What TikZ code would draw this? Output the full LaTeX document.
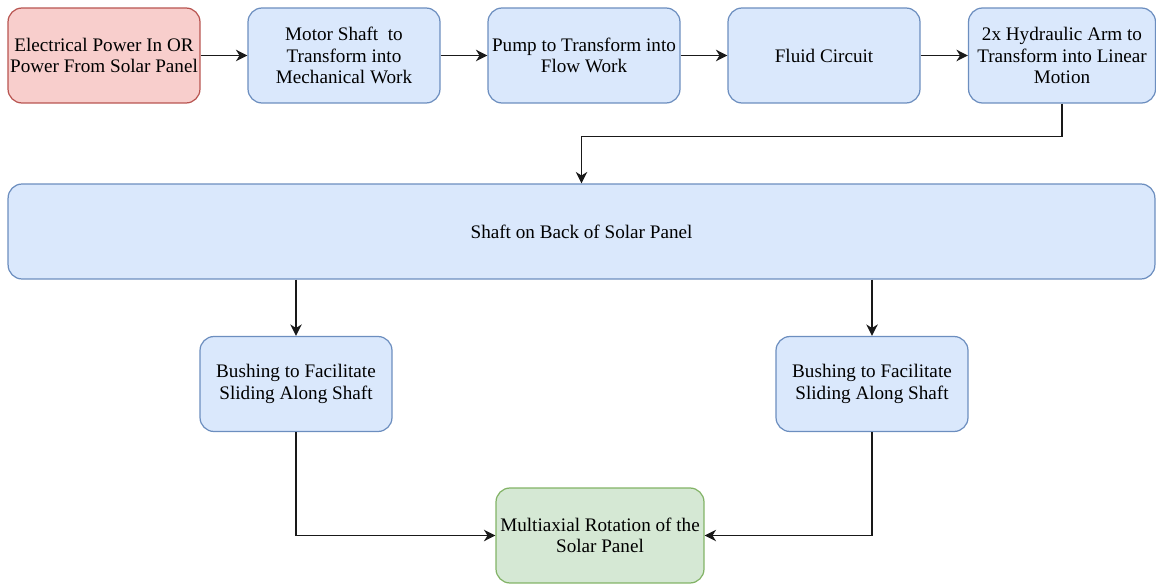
\documentclass[tikz,border=0pt]{standalone}
\usepackage{fontspec}
\setmainfont{Liberation Serif}
\usetikzlibrary{arrows.meta}

\definecolor{bluefill}{HTML}{DAE8FC}
\definecolor{blueline}{HTML}{6C8EBF}
\definecolor{redfill}{HTML}{F8CECC}
\definecolor{redline}{HTML}{B85450}
\definecolor{greenfill}{HTML}{D5E8D4}
\definecolor{greenline}{HTML}{82B366}

\tikzset{
  box/.style={draw=blueline, fill=bluefill, rounded corners=0.28cm, line width=0.7pt,
    minimum width=3.84cm, minimum height=1.9cm, inner sep=0pt, align=center,
    font=\fontsize{10.9}{12.3}\selectfont, text=black},
  redbox/.style={box, draw=redline, fill=redfill},
  greenbox/.style={box, draw=greenline, fill=greenfill},
  arr/.style={draw=black!90, line width=1pt, -{Stealth[length=6.5pt,width=6.5pt,inset=2pt]}}
}

\begin{document}
\begin{tikzpicture}[x=0.02cm,y=-0.02cm]
\useasboundingbox (0,0) rectangle (1156,584);

%row-1
\node[redbox] (power) at (104,55.5) {Electrical Power In OR\\Power From Solar Panel};
\node[box] (motor) at (344,55.5) {Motor Shaft\ \ to\\Transform into\\Mechanical Work};
\node[box] (pump) at (584,55.5) {Pump to Transform into\\Flow Work};
\node[box] (fluid) at (824,55.5) {Fluid Circuit};
\node[box, minimum width=3.74cm] (arm) at (1062,55.5) {2x Hydraulic Arm to\\Transform into Linear\\Motion};

%row-2
\node[box, minimum width=22.94cm] (shaft) at (581.5,231.5) {Shaft on Back of Solar Panel};

%row-3
\node[box] (bushA) at (296,384) {Bushing to Facilitate\\Sliding Along Shaft};
\node[box] (bushB) at (872,384) {Bushing to Facilitate\\Sliding Along Shaft};

%row-4
\node[greenbox, minimum width=4.16cm] (rot) at (600,535.5) {Multiaxial Rotation of the\\Solar Panel};

\draw[arr] (power) -- (motor);
\draw[arr] (motor) -- (pump);
\draw[arr] (pump) -- (fluid);
\draw[arr] (fluid) -- (arm);
\draw[arr] (arm.south) -- ++(0,33) -| (shaft.north);
\draw[arr] (shaft.south -| bushA.north) -- (bushA.north);
\draw[arr] (shaft.south -| bushB.north) -- (bushB.north);
\draw[arr] (bushA.south) |- (rot.west);
\draw[arr] (bushB.south) |- (rot.east);
\end{tikzpicture}
\end{document}
